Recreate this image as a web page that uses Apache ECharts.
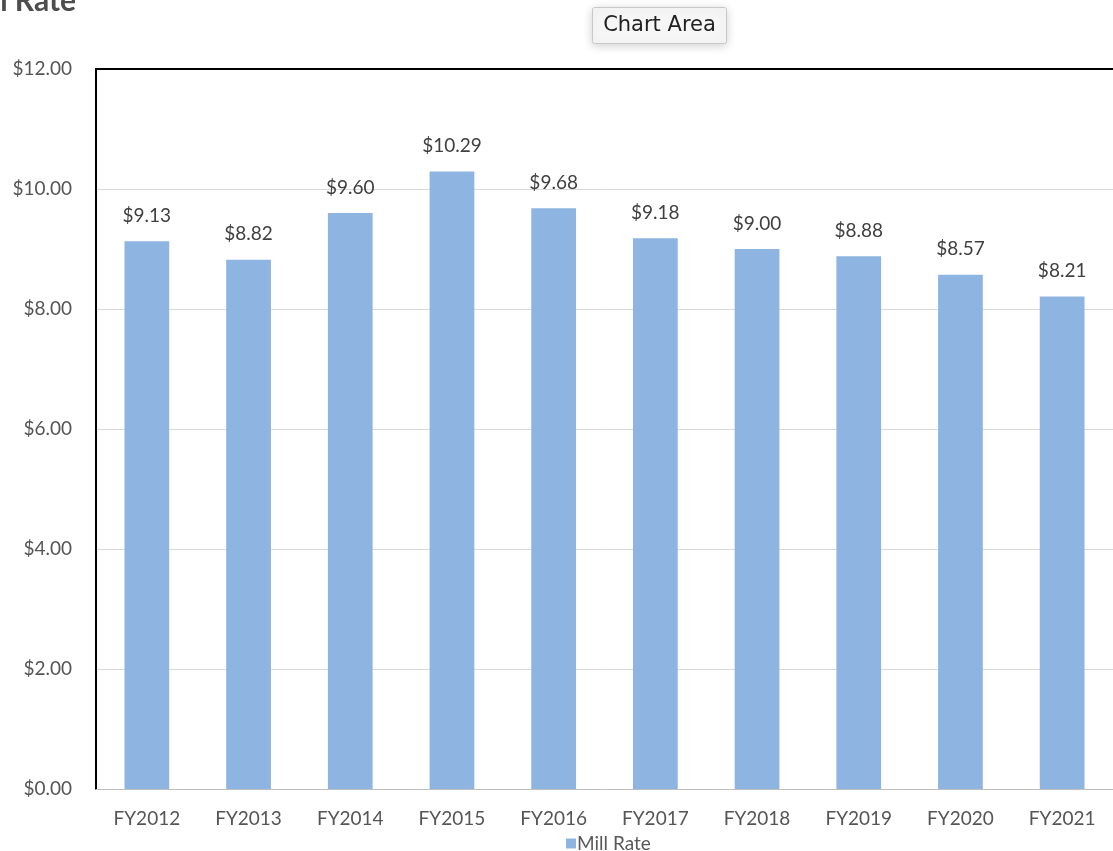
<!DOCTYPE html>
<html>
<head>
<meta charset="utf-8">
<title>Mill Rate</title>
<script src="https://cdn.jsdelivr.net/npm/echarts@6/dist/echarts.min.js"></script>
<style>
  html, body { margin: 0; padding: 0; background: #ffffff; }
  #chart { width: 1113px; height: 851px; }
</style>
</head>
<body>
<div id="chart"></div>
<script>
// Fiscal years and the mill rate for each
const categories = ['FY2012', 'FY2013', 'FY2014', 'FY2015', 'FY2016', 'FY2017', 'FY2018', 'FY2019', 'FY2020', 'FY2021'];
const millRate = [9.13, 8.82, 9.60, 10.29, 9.68, 9.18, 9.00, 8.88, 8.57, 8.21];
const seriesName = 'Mill Rate';
const titleText = 'Mill Rate';
const hoverText = 'Chart Area';

const FONT = 'Lato, "Open Sans", sans-serif';
const money = v => '$' + Number(v).toFixed(2);

const chart = echarts.init(document.getElementById('chart'), null, { renderer: 'canvas' });

chart.setOption({
  backgroundColor: '#ffffff',
  animation: false,
  textStyle: { fontFamily: FONT },
  grid: { left: 96, top: 69, width: 1028, height: 720, containLabel: false },
  legend: {
    data: [seriesName],
    left: 566,
    top: 834,
    icon: 'rect',
    itemWidth: 10,
    itemHeight: 10,
    padding: 0,
    textStyle: { fontFamily: FONT, fontSize: 19, color: '#595959', padding: [0, 0, 0, -4] }
  },
  xAxis: [
    {
      type: 'category',
      data: categories,
      position: 'bottom',
      axisLine: { show: true, lineStyle: { color: '#bfbfbf', width: 1 } },
      axisTick: { show: false },
      axisLabel: { fontFamily: FONT, fontSize: 19, color: '#555555', margin: 20 },
      splitLine: { show: false }
    },
    {
      // frame line along the top of the plot
      type: 'category',
      data: categories,
      position: 'top',
      axisLine: { show: true, lineStyle: { color: '#000000', width: 2 } },
      axisTick: { show: false },
      axisLabel: { show: false },
      splitLine: { show: false }
    }
  ],
  yAxis: {
    type: 'value',
    min: 0,
    max: 12,
    interval: 2,
    axisLine: { show: true, lineStyle: { color: '#000000', width: 2 } },
    axisTick: { show: false },
    axisLabel: { fontFamily: FONT, fontSize: 19, color: '#555555', margin: 24, formatter: money },
    splitLine: { show: true, lineStyle: { color: '#d9d9d9', width: 1 } }
  },
  series: [
    {
      name: seriesName,
      type: 'bar',
      xAxisIndex: 0,
      data: millRate,
      barWidth: '44%',
      itemStyle: { color: '#8eb5e1' },
      label: {
        show: true,
        position: 'top',
        distance: 16,
        fontFamily: FONT,
        fontSize: 19,
        color: '#404040',
        formatter: p => money(p.value)
      }
    }
  ],
  graphic: [
    {
      type: 'text',
      style: {
        x: 76, y: 1,
        text: titleText,
        font: 'bold 30px ' + FONT,
        fill: '#4d4d4d',
        textAlign: 'right',
        textVerticalAlign: 'middle'
      }
    },
    {
      type: 'group',
      left: 592,
      top: 7,
      children: [
        {
          type: 'rect',
          shape: { x: 0, y: 0, width: 134, height: 36, r: 2 },
          style: {
            fill: '#f6f6f6',
            stroke: '#c8c8c8',
            lineWidth: 1,
            shadowBlur: 10,
            shadowColor: 'rgba(0,0,0,0.18)',
            shadowOffsetY: 2
          }
        },
        {
          type: 'text',
          style: {
            x: 67, y: 18,
            text: hoverText,
            font: '21px "DejaVu Sans", sans-serif',
            fill: '#222222',
            textAlign: 'center',
            textVerticalAlign: 'middle'
          }
        }
      ]
    }
  ]
});
</script>
</body>
</html>
